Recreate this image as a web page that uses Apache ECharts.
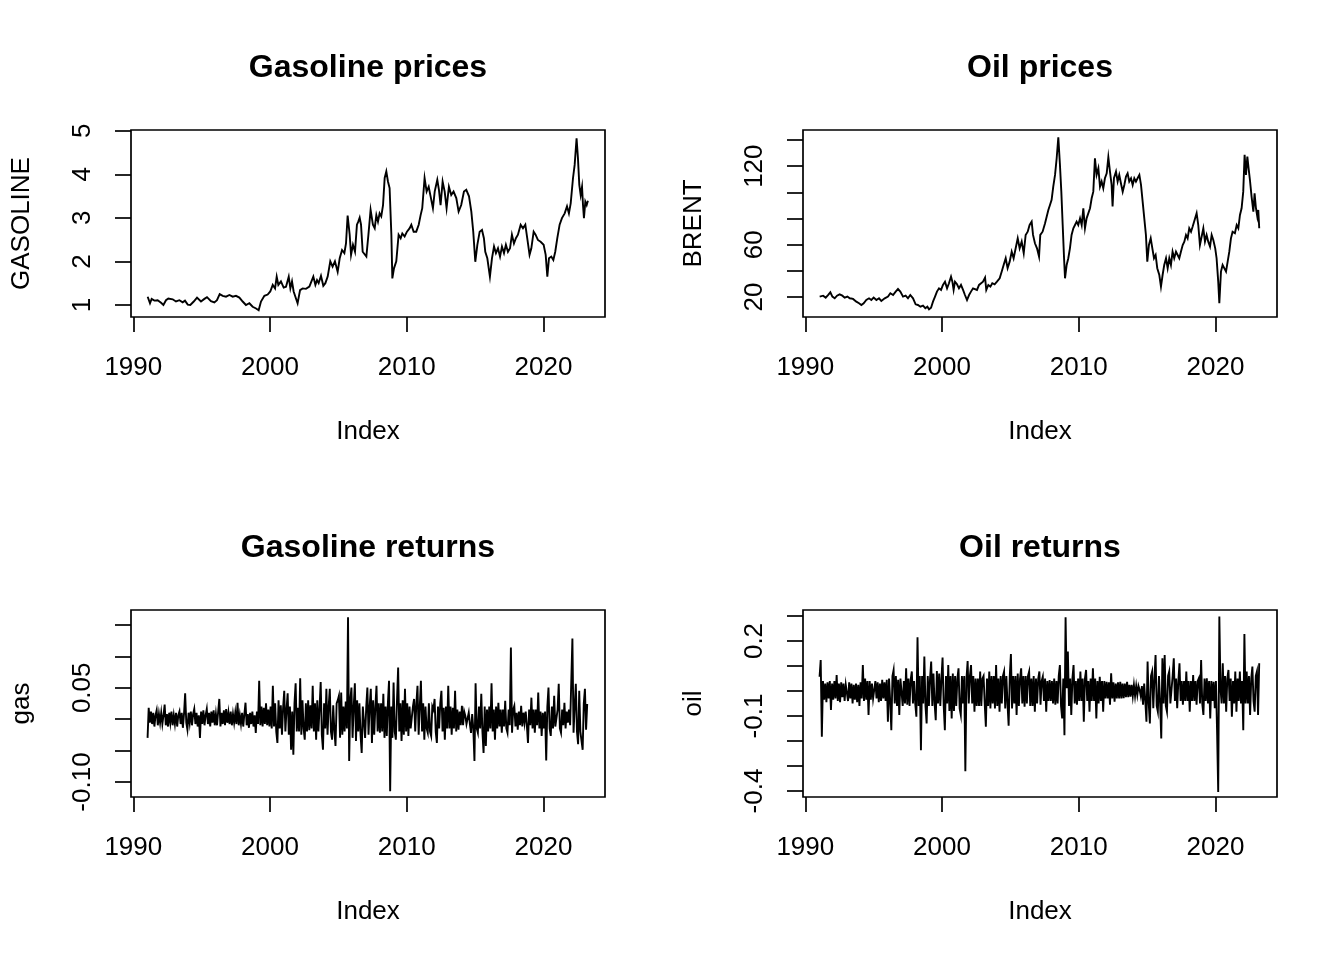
<!DOCTYPE html>
<html><head><meta charset="utf-8">
<script src="https://cdn.jsdelivr.net/npm/echarts@6/dist/echarts.min.js"></script>
<style>html,body{margin:0;padding:0;background:#fff}#c{width:1344px;height:960px}</style>
</head><body><div id="c"></div>
<script>
// ---------------- DATA ----------------
const gasYears = [1991.05,1991.22,1991.34,1991.54,1991.78,1992.03,1992.20,1992.39,1992.56,1992.88,1993.12,1993.37,1993.61,1993.78,1993.98,1994.17,1994.42,1994.66,1994.95,1995.20,1995.39,1995.68,1995.93,1996.12,1996.32,1996.54,1996.78,1997.03,1997.27,1997.51,1997.76,1998.00,1998.24,1998.49,1998.73,1998.98,1999.17,1999.34,1999.59,1999.83,2000.02,2000.20,2000.37,2000.49,2000.61,2000.80,2001.00,2001.17,2001.37,2001.49,2001.61,2001.73,2001.90,2002.02,2002.20,2002.39,2002.63,2002.88,2003.00,2003.17,2003.32,2003.44,2003.56,2003.73,2003.90,2004.05,2004.22,2004.41,2004.58,2004.75,2004.95,2005.10,2005.27,2005.44,2005.56,2005.68,2005.83,2005.93,2006.07,2006.22,2006.36,2006.46,2006.56,2006.66,2006.78,2006.90,2007.05,2007.20,2007.36,2007.53,2007.66,2007.78,2007.90,2008.02,2008.14,2008.27,2008.39,2008.51,2008.63,2008.75,2008.88,2008.95,2009.07,2009.24,2009.41,2009.56,2009.68,2009.85,2010.02,2010.22,2010.34,2010.51,2010.70,2010.88,2011.02,2011.14,2011.31,2011.46,2011.61,2011.75,2011.92,2012.05,2012.24,2012.36,2012.48,2012.63,2012.78,2012.92,2013.09,2013.26,2013.43,2013.63,2013.80,2013.99,2014.19,2014.36,2014.56,2014.73,2014.87,2015.02,2015.17,2015.34,2015.51,2015.65,2015.75,2015.90,2016.09,2016.24,2016.39,2016.53,2016.68,2016.83,2016.97,2017.12,2017.26,2017.41,2017.56,2017.70,2017.85,2017.99,2018.14,2018.34,2018.51,2018.68,2018.82,2018.99,2019.12,2019.29,2019.43,2019.60,2019.80,2020.02,2020.17,2020.29,2020.41,2020.58,2020.73,2020.87,2021.02,2021.19,2021.36,2021.56,2021.73,2021.87,2022.00,2022.17,2022.29,2022.43,2022.53,2022.63,2022.73,2022.83,2022.90,2022.97,2023.07,2023.17,2023.26];
const gasPrice = [1.19,1.04,1.14,1.10,1.11,1.05,1.00,1.11,1.15,1.13,1.08,1.11,1.06,1.10,1.01,1.00,1.08,1.17,1.08,1.14,1.18,1.09,1.06,1.11,1.25,1.21,1.19,1.23,1.19,1.21,1.17,1.08,1.00,1.04,0.96,0.92,0.88,1.08,1.21,1.24,1.31,1.46,1.38,1.65,1.46,1.54,1.40,1.42,1.65,1.38,1.54,1.31,1.15,1.04,1.34,1.38,1.37,1.42,1.40,1.65,1.46,1.57,1.50,1.67,1.44,1.50,1.65,2.00,1.88,2.00,1.76,2.07,2.26,2.19,2.41,3.05,2.61,2.15,2.38,2.22,2.84,2.91,3.00,2.84,2.22,2.26,2.11,2.61,3.18,2.84,2.76,3.06,2.91,3.10,3.03,3.29,3.91,4.06,3.83,3.68,2.61,1.61,1.84,2.00,2.61,2.53,2.64,2.57,2.68,2.76,2.84,2.68,2.68,2.84,3.06,3.22,3.91,3.60,3.71,3.49,3.22,3.60,3.87,3.64,3.29,3.83,3.60,3.22,3.71,3.52,3.60,3.45,3.14,3.29,3.60,3.64,3.49,3.14,2.68,1.99,2.38,2.68,2.72,2.53,2.22,2.07,1.65,2.07,2.34,2.19,2.30,2.11,2.34,2.19,2.38,2.22,2.30,2.61,2.41,2.53,2.61,2.84,2.76,2.84,2.53,2.15,2.30,2.68,2.61,2.49,2.45,2.38,2.15,1.65,2.07,2.11,2.03,2.22,2.53,2.84,2.99,3.10,3.26,3.10,3.33,3.91,4.21,4.82,4.37,3.75,3.52,3.71,3.29,2.99,3.37,3.29,3.39];

const oilYears = [1991.05,1991.17,1991.30,1991.49,1991.66,1991.83,1991.98,1992.15,1992.32,1992.51,1992.71,1992.88,1993.08,1993.25,1993.49,1993.73,1993.93,1994.10,1994.27,1994.46,1994.66,1994.83,1995.00,1995.20,1995.39,1995.56,1995.81,1996.05,1996.22,1996.42,1996.61,1996.78,1996.95,1997.15,1997.34,1997.51,1997.68,1997.88,1998.07,1998.24,1998.42,1998.61,1998.78,1998.93,1999.05,1999.20,1999.34,1999.49,1999.63,1999.78,1999.93,2000.07,2000.22,2000.37,2000.51,2000.66,2000.76,2000.85,2000.95,2001.10,2001.24,2001.39,2001.54,2001.68,2001.83,2001.98,2002.12,2002.27,2002.41,2002.56,2002.71,2002.85,2003.00,2003.15,2003.24,2003.39,2003.54,2003.68,2003.85,2004.02,2004.22,2004.37,2004.51,2004.66,2004.80,2004.95,2005.10,2005.24,2005.39,2005.54,2005.68,2005.83,2005.98,2006.12,2006.27,2006.41,2006.56,2006.66,2006.80,2006.95,2007.10,2007.19,2007.36,2007.54,2007.66,2007.78,2007.90,2008.02,2008.14,2008.27,2008.39,2008.51,2008.63,2008.73,2008.83,2008.93,2009.00,2009.12,2009.24,2009.36,2009.48,2009.61,2009.73,2009.85,2009.97,2010.10,2010.22,2010.34,2010.46,2010.58,2010.70,2010.83,2010.95,2011.07,2011.19,2011.31,2011.44,2011.56,2011.68,2011.80,2011.92,2012.05,2012.17,2012.29,2012.41,2012.48,2012.58,2012.73,2012.85,2012.97,2013.09,2013.22,2013.34,2013.46,2013.58,2013.70,2013.83,2013.95,2014.07,2014.19,2014.31,2014.44,2014.56,2014.68,2014.80,2014.92,2015.02,2015.14,2015.27,2015.39,2015.51,2015.63,2015.75,2015.90,2016.02,2016.14,2016.26,2016.39,2016.51,2016.63,2016.75,2016.87,2016.99,2017.12,2017.24,2017.36,2017.48,2017.61,2017.73,2017.85,2017.97,2018.09,2018.22,2018.34,2018.46,2018.63,2018.75,2018.87,2019.02,2019.12,2019.24,2019.36,2019.48,2019.61,2019.73,2019.85,2019.99,2020.09,2020.21,2020.29,2020.41,2020.53,2020.65,2020.78,2020.90,2021.02,2021.14,2021.26,2021.43,2021.56,2021.68,2021.80,2021.92,2022.04,2022.14,2022.24,2022.34,2022.43,2022.53,2022.65,2022.78,2022.87,2022.97,2023.07,2023.14,2023.21];
const oilPrice = [20.3,19.0,21.0,19.5,21.5,23.6,20.3,19.0,21.0,22.0,21.0,19.5,20.3,19.0,18.5,16.4,15.2,13.9,15.2,17.7,19.0,17.7,19.5,17.7,19.0,17.0,19.0,20.3,22.8,21.5,24.1,26.1,24.1,20.3,21.0,19.0,21.5,19.0,14.4,13.9,12.6,13.4,11.4,12.6,10.6,11.8,16.4,20.3,24.1,26.6,25.4,29.2,31.7,26.6,30.5,35.6,31.7,25.4,31.7,29.7,26.6,29.2,25.4,21.5,17.7,21.5,24.1,26.6,27.9,25.4,29.2,30.5,31.7,34.8,25.4,29.2,27.9,30.5,29.7,31.7,34.3,39.4,44.5,49.6,42.0,47.0,54.6,49.6,57.2,64.8,57.2,62.3,53.4,67.4,69.9,75.0,77.6,67.4,61.0,57.2,50.8,67.4,69.9,76.3,75.0,86.5,90.3,94.2,104.3,113.3,126.0,142.0,120.9,100.5,75.0,49.6,34.3,44.5,49.6,57.2,67.4,72.5,75.0,77.6,75.0,80.1,75.0,87.8,72.5,80.1,81.4,87.8,95.4,100.5,126.0,113.3,118.4,104.3,108.2,103.1,110.7,114.5,126.8,115.8,105.6,89.1,110.7,115.8,108.2,113.3,106.9,100.5,105.6,112.0,114.5,108.2,110.7,105.6,110.7,108.2,110.7,113.3,105.6,92.9,80.1,67.4,47.0,59.7,64.8,57.2,49.6,52.1,42.0,36.8,27.9,36.8,44.5,49.6,42.0,49.6,44.5,54.6,49.6,54.6,52.1,49.6,54.6,59.7,62.3,67.4,64.8,72.5,69.9,73.8,75.0,84.0,75.0,59.7,67.4,72.5,62.3,67.4,62.3,58.5,67.4,63.6,57.2,49.6,31.7,15.2,39.4,44.5,42.0,39.4,47.0,54.6,64.8,69.9,68.7,75.0,72.5,82.7,87.8,100.5,128.6,113.3,127.3,118.4,109.4,96.7,85.2,99.2,87.8,81.4,86.5,72.5];

// weekly returns, sampled 12 per year (one row per calendar year from 1991)
const returnsStartYear = 1991;
const returnsPerYear = 12;
const gasReturns = [
 [-0.030,0.018,-0.006,0.012,-0.008,0.010,-0.012,0.006,0.014,-0.010,0.008,-0.006],
 [0.010,-0.008,0.006,0.023,-0.010,0.008,-0.012,0.010,-0.006,0.012,-0.010,0.006],
 [-0.008,0.010,-0.012,0.006,0.012,-0.008,0.010,-0.014,0.008,0.041,-0.006,-0.017],
 [0.010,-0.006,0.012,-0.010,0.008,0.016,-0.008,0.010,-0.012,0.006,-0.030,0.012],
 [-0.008,0.014,-0.010,0.006,0.016,-0.008,0.010,-0.012,0.012,-0.006,0.014,-0.010],
 [0.008,-0.010,0.012,0.032,-0.012,0.010,-0.008,0.014,-0.010,0.016,-0.006,0.010],
 [-0.008,0.012,-0.010,0.008,-0.006,0.010,-0.008,0.026,-0.010,0.006,-0.008,0.010],
 [-0.012,0.008,0.026,-0.010,0.008,-0.014,0.010,-0.008,0.012,-0.012,0.006,-0.022],
 [0.012,-0.008,0.061,-0.010,0.020,-0.012,0.018,-0.008,0.025,-0.010,0.015,-0.012],
 [0.020,-0.015,0.053,-0.012,0.025,-0.020,-0.038,0.030,-0.015,0.022,-0.025,0.018],
 [0.045,-0.020,0.015,0.041,-0.025,0.020,-0.049,0.012,-0.057,0.025,0.057,-0.020],
 [0.018,-0.020,0.065,-0.025,0.030,-0.015,-0.033,0.025,-0.020,0.030,-0.018,0.022],
 [-0.015,0.053,-0.020,0.025,-0.033,0.030,-0.020,0.018,0.059,-0.025,-0.049,0.025],
 [-0.015,0.048,-0.025,0.020,0.048,-0.020,-0.033,0.022,-0.018,-0.043,0.025,0.030],
 [0.037,-0.030,0.042,-0.025,0.020,-0.020,0.028,-0.015,0.162,-0.067,0.030,0.050],
 [-0.030,0.020,0.057,-0.035,0.030,-0.020,0.025,-0.025,-0.054,0.020,0.021,-0.030],
 [0.020,0.050,-0.025,0.020,0.048,-0.038,0.030,-0.025,0.020,0.053,-0.020,0.025],
 [-0.022,0.025,-0.020,0.040,-0.030,0.020,-0.027,0.025,0.061,-0.115,0.020,-0.030],
 [0.058,-0.020,-0.033,0.030,0.082,-0.020,0.025,-0.035,0.030,-0.025,0.048,-0.020],
 [0.025,-0.027,0.020,-0.015,-0.017,0.020,0.032,-0.020,0.025,0.053,-0.025,0.020],
 [0.061,-0.020,0.025,-0.033,0.020,-0.015,-0.022,0.025,-0.020,-0.027,0.020,0.015],
 [0.032,-0.020,-0.038,0.020,-0.015,0.025,0.045,-0.020,0.018,-0.033,0.020,-0.015],
 [0.053,-0.015,0.020,-0.025,0.018,-0.015,0.045,-0.020,0.015,-0.017,0.012,-0.010],
 [0.021,-0.010,0.012,0.005,-0.008,-0.011,0.010,-0.008,-0.022,0.008,-0.015,-0.067],
 [0.057,-0.015,-0.022,0.020,-0.015,0.040,-0.020,-0.054,0.020,-0.043,0.015,-0.020],
 [0.020,-0.015,0.057,-0.020,0.015,-0.033,0.020,-0.015,0.026,-0.012,0.015,-0.022],
 [0.015,-0.012,0.029,-0.015,-0.022,0.015,-0.010,0.114,-0.022,0.015,0.021,-0.012],
 [0.010,-0.017,0.012,-0.010,0.021,-0.012,0.010,-0.006,0.012,-0.010,-0.038,0.015],
 [-0.010,0.034,-0.015,0.015,-0.022,0.015,-0.010,0.042,-0.015,0.012,-0.027,0.010],
 [-0.015,0.012,-0.066,0.020,0.050,-0.015,-0.027,0.020,-0.015,0.037,-0.012,-0.015],
 [0.015,0.056,-0.015,-0.022,0.015,-0.010,0.026,-0.015,0.012,-0.006,0.015,-0.010],
 [-0.011,0.128,-0.022,0.020,0.056,-0.020,-0.040,0.045,-0.020,-0.035,-0.049,0.025],
 [0.048,-0.017,0.024]
];
const oilReturns = [
 [0.057,0.124,-0.183,0.040,-0.035,0.030,-0.045,0.035,-0.030,0.040,-0.076,0.030],
 [-0.035,0.040,-0.030,0.064,-0.040,0.030,-0.045,0.035,-0.025,0.030,-0.040,0.025],
 [0.030,-0.040,0.035,-0.030,0.030,-0.050,0.025,-0.035,0.030,-0.045,0.025,-0.060],
 [0.035,-0.030,0.104,-0.040,0.050,-0.035,0.040,-0.096,0.040,-0.035,0.030,-0.030],
 [-0.035,0.040,-0.030,0.035,-0.045,0.030,-0.040,0.045,-0.030,0.035,-0.040,0.045],
 [-0.123,0.050,-0.040,-0.157,0.060,0.084,-0.050,0.060,-0.060,0.045,-0.096,0.050],
 [0.050,-0.060,0.040,-0.050,0.091,-0.055,0.050,-0.060,0.045,0.078,-0.050,0.040],
 [-0.050,-0.103,0.215,-0.060,0.060,-0.237,0.060,-0.050,0.138,-0.060,-0.130,0.060],
 [-0.060,0.050,0.118,-0.060,0.070,-0.050,-0.117,0.080,-0.050,0.070,-0.060,0.050],
 [0.134,-0.060,-0.157,0.060,-0.050,0.104,-0.080,0.060,-0.110,0.070,-0.080,0.060],
 [-0.060,0.050,0.091,-0.070,-0.096,0.060,-0.050,0.060,-0.321,0.050,0.120,-0.050],
 [0.060,0.104,-0.050,0.060,-0.083,0.050,-0.060,0.050,-0.060,0.078,-0.060,0.050],
 [0.060,-0.050,-0.143,0.050,-0.060,0.078,-0.070,0.060,-0.050,0.060,-0.070,0.104],
 [-0.060,0.050,-0.083,0.060,-0.050,0.060,0.078,-0.070,0.060,-0.050,-0.139,0.060],
 [0.148,-0.070,0.060,-0.050,0.060,-0.096,0.070,-0.060,0.050,0.091,-0.050,0.060],
 [-0.063,0.060,-0.050,0.060,0.078,-0.060,0.050,-0.060,0.060,-0.083,0.050,-0.050],
 [0.050,0.078,-0.055,0.040,0.057,-0.040,0.050,-0.083,0.040,-0.040,0.044,-0.040],
 [0.040,-0.050,0.050,-0.055,0.040,-0.050,0.060,0.104,-0.060,-0.110,0.050,-0.177],
 [0.295,0.011,0.158,-0.060,0.050,-0.096,0.050,0.104,-0.050,0.040,-0.055,0.050],
 [-0.040,0.078,-0.040,0.050,-0.123,0.050,0.084,-0.040,0.040,-0.083,0.050,-0.040],
 [0.091,-0.040,0.050,-0.110,0.040,-0.050,0.057,-0.040,0.040,-0.083,0.040,-0.030],
 [0.037,-0.030,0.035,-0.055,0.071,-0.030,0.035,-0.043,0.030,-0.030,0.035,-0.030],
 [0.037,-0.030,0.030,-0.029,0.030,-0.025,0.037,-0.025,0.025,-0.023,0.025,-0.020],
 [0.024,-0.020,0.020,-0.016,0.020,0.004,-0.020,0.020,-0.055,0.030,-0.040,-0.123],
 [0.118,-0.050,-0.130,0.060,0.078,-0.069,0.050,0.144,-0.060,-0.083,0.060,-0.050],
 [-0.190,0.131,-0.050,0.144,-0.060,-0.083,0.060,0.078,-0.050,-0.055,0.060,0.131],
 [-0.040,0.050,-0.069,0.040,0.111,-0.040,0.040,-0.055,0.040,-0.040,0.078,-0.040],
 [0.040,-0.083,0.040,-0.040,0.064,-0.040,0.040,-0.055,0.040,0.051,-0.050,0.124],
 [-0.050,-0.096,0.050,-0.040,0.051,-0.050,0.040,-0.110,0.040,-0.040,0.037,-0.069],
 [0.040,-0.157,-0.404,0.298,0.011,-0.050,0.111,-0.050,0.060,-0.083,0.050,0.084],
 [-0.040,0.050,-0.103,0.040,-0.050,0.078,-0.083,0.050,-0.040,0.078,-0.050,0.040],
 [-0.157,0.228,-0.050,0.078,-0.050,0.060,-0.096,0.050,0.098,-0.040,-0.083,0.060],
 [0.078,-0.096,0.111]
];

const xTickValues = [1990, 2000, 2010, 2020];
const titles = ['Gasoline prices', 'Oil prices', 'Gasoline returns', 'Oil returns'];
const yNames = ['GASOLINE', 'BRENT', 'gas', 'oil'];
const xName = 'Index';
const yTickLabels = [
  ['1','2','3','4','5'],
  ['20','60','120'],
  ['0.05','-0.10'],
  ['0.2','-0.1','-0.4']
];

// ---------------- build ----------------
function zip(xs, ys){ return xs.map((x,i)=>[x, ys[i]]); }
function fromRows(rows){
  const out = [];
  rows.forEach((r, k) => r.forEach((v, i) => out.push([returnsStartYear + k + (i + 0.5) / returnsPerYear, v])));
  return out;
}
const seriesData = [zip(gasYears, gasPrice), zip(oilYears, oilPrice), fromRows(gasReturns), fromRows(oilReturns)];

const FONT = 'Liberation Sans';
const FS = 26;
const panels = [
  {L:131, T:130, W:474, H:187, ymin:0.725, ymax:5.01,  tMin:1,    tMax:5,    tInt:1,    tTop:130.7, tBot:305},
  {L:803, T:130, W:474, H:187, ymin:4.7,   ymax:147.6, tMin:20,   tMax:140,  tInt:20,   tTop:140,   tBot:297},
  {L:131, T:610, W:474, H:187, ymin:-0.1242, ymax:0.1736, tMin:-0.10, tMax:0.15, tInt:0.05, tTop:625, tBot:782},
  {L:803, T:610, W:474, H:187, ymin:-0.424, ymax:0.324, tMin:-0.4, tMax:0.3, tInt:0.1, tTop:616, tBot:791}
];
const XMIN = 1989.83, XMAX = 2024.51, PXYR = 13.67;

function fmtY(p){
  const labs = yTickLabels[p];
  return function(v){
    for (const s of labs){ if (Math.abs(parseFloat(s) - v) < 1e-6) return s; }
    return '';
  };
}

const grid = [], xAxis = [], yAxis = [], series = [], graphic = [];
const tickStyle = {color:'#000', width:1.7};
panels.forEach((p, i) => {
  grid.push({left:p.L, top:p.T, width:p.W, height:p.H, show:true, borderColor:'#000', borderWidth:1.7, backgroundColor:'transparent', containLabel:false, outerBoundsMode:'none'});
  xAxis.push({gridIndex:i, type:'value', min:XMIN, max:XMAX, show:false});
  yAxis.push({gridIndex:i, type:'value', min:p.ymin, max:p.ymax, show:false});
  series.push({type:'line', xAxisIndex:i, yAxisIndex:i, data:seriesData[i], showSymbol:false, symbol:'none', silent:true, animation:false, clip:true, sampling:'none', lineStyle:{color:'#000', width:1.9, join:'miter'}});
});
panels.forEach((p) => {
  const x0 = p.L + (1990 - XMIN) * PXYR;
  grid.push({left:x0, top:p.T, width:30 * PXYR, height:p.H, show:false, containLabel:false, outerBoundsMode:'none'});
});
panels.forEach((p) => {
  grid.push({left:p.L, top:p.tTop, width:p.W, height:p.tBot - p.tTop, show:false, containLabel:false, outerBoundsMode:'none'});
});
panels.forEach((p, i) => {
  xAxis.push({gridIndex:4+i, type:'value', min:xTickValues[0], max:xTickValues[xTickValues.length-1], interval:10, position:'bottom',
    axisLine:{show:false}, splitLine:{show:false},
    axisTick:{show:true, length:15, inside:false, lineStyle:tickStyle},
    axisLabel:{show:true, color:'#000', fontSize:FS, fontFamily:FONT, margin:37.5, formatter:(v)=>String(Math.round(v))}});
  yAxis.push({gridIndex:4+i, type:'value', min:0, max:1, show:false});
});
panels.forEach((p, i) => {
  xAxis.push({gridIndex:8+i, type:'value', min:0, max:1, show:false});
  yAxis.push({gridIndex:8+i, type:'value', min:p.tMin, max:p.tMax, interval:p.tInt, position:'left',
    axisLine:{show:false}, splitLine:{show:false},
    axisTick:{show:true, length:16, inside:false, lineStyle:tickStyle},
    axisLabel:{show:true, color:'#000', fontSize:FS, fontFamily:FONT, rotate:90, margin:35, formatter:fmtY(i)}});
});
panels.forEach((p, i) => {
  const cx = p.L + p.W / 2, cy = p.T + p.H / 2;
  graphic.push({type:'text', x:cx, y:p.T - 62, silent:true,
    style:{text:titles[i], fontSize:32, fontWeight:'bold', fontFamily:FONT, fill:'#000', align:'center', verticalAlign:'middle'}});
  graphic.push({type:'text', x:cx, y:p.T + p.H + 115, silent:true,
    style:{text:xName, fontSize:FS, fontFamily:FONT, fill:'#000', align:'center', verticalAlign:'middle'}});
  graphic.push({type:'text', x:p.L - 109, y:cy, rotation:Math.PI/2, silent:true,
    style:{text:yNames[i], fontSize:FS, fontFamily:FONT, fill:'#000', align:'center', verticalAlign:'middle'}});
});

const chart = echarts.init(document.getElementById('c'), null, {renderer:'canvas', width:1344, height:960});
chart.setOption({backgroundColor:'#fff', animation:false, grid, xAxis, yAxis, series, graphic});
</script>
</body></html>
